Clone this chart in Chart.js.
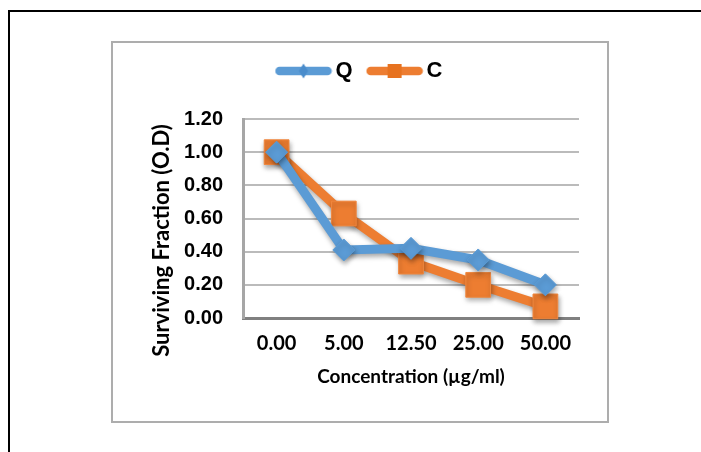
<!DOCTYPE html>
<html>
<head>
<meta charset="utf-8">
<script src="https://cdn.jsdelivr.net/npm/chart.js@4.4.1/dist/chart.umd.min.js"></script>
<style>
  html, body { margin: 0; padding: 0; background: #fff; }
  #wrap { position: relative; width: 701px; height: 452px; overflow: hidden; }
  #frame { position: absolute; left: 8px; top: 10px; width: 700px; height: 450px;
           border-top: 2px solid #000; border-left: 2px solid #000; box-sizing: border-box; }
  #box { position: absolute; left: 111px; top: 41px; width: 498px; height: 382px;
         border: 2px solid #ADADAD; box-sizing: border-box; }
  canvas { position: absolute; left: 0; top: 0; }
</style>
</head>
<body>
<div id="wrap">
  <div id="frame"></div>
  <div id="box"></div>
  <canvas id="c" width="701" height="452"></canvas>
</div>
<script>
// Concentration categories and the surviving fraction of each treatment
const categories = ['0.00', '5.00', '12.50', '25.00', '50.00'];
const seriesQ = [1.00, 0.41, 0.42, 0.35, 0.20];
const seriesC = [1.00, 0.63, 0.34, 0.20, 0.07];
const yTicks = [0.00, 0.20, 0.40, 0.60, 0.80, 1.00, 1.20];

const BLUE = '#5B9BD5';
const ORANGE = '#ED7D31';

// Legend glyph: thick rounded line with the series marker in the middle
function legendGlyph(color, markColor, shape) {
  const cv = document.createElement('canvas');
  cv.width = 58; cv.height = 20;
  const g = cv.getContext('2d');
  g.strokeStyle = color;
  g.lineWidth = 8.5;
  g.lineCap = 'round';
  g.beginPath(); g.moveTo(5, 10); g.lineTo(53, 10); g.stroke();
  g.fillStyle = markColor;
  g.beginPath();
  if (shape === 'diamond') {
    g.moveTo(29, 2.5); g.lineTo(33.5, 10); g.lineTo(29, 17.5); g.lineTo(24.5, 10);
  } else {
    g.rect(22, 3, 14, 14);
  }
  g.closePath(); g.fill();
  return cv;
}
const glyphQ = legendGlyph(BLUE, '#4A8CCB', 'diamond');
const glyphC = legendGlyph(ORANGE, '#E7721F', 'square');

// Soft drop shadow under the lines and markers
const markShadow = {
  id: 'markShadow',
  beforeDatasetDraw(chart) {
    const ctx = chart.ctx;
    ctx.save();
    ctx.shadowColor = 'rgba(0,0,0,0.35)';
    ctx.shadowBlur = 5;
    ctx.shadowOffsetX = 1;
    ctx.shadowOffsetY = 3;
  },
  afterDatasetDraw(chart) { chart.ctx.restore(); }
};

// Keep the legend row near the top padding, leaving open space above the plot
const legendUp = {
  id: 'legendUp',
  afterLayout(chart) {
    const lg = chart.legend;
    if (!lg) return;
    const h = lg.bottom - lg.top;
    lg.top = chart.options.layout.padding.top;
    lg.bottom = lg.top + h;
  }
};

// Vertical axis title, set a little below the middle of the axis
const yAxisTitle = {
  id: 'yAxisTitle',
  afterDraw(chart) {
    const { ctx, chartArea, scales } = chart;
    ctx.save();
    ctx.translate(scales.y.left + 16, (chartArea.top + chartArea.bottom) / 2 + 22);
    ctx.rotate(-Math.PI / 2);
    ctx.font = 'bold 22px Lato';
    ctx.fillStyle = '#000';
    ctx.textAlign = 'center';
    ctx.textBaseline = 'middle';
    ctx.fillText('Surviving Fraction (O.D)', 0, 0);
    ctx.restore();
  }
};

new Chart(document.getElementById('c'), {
  type: 'line',
  data: {
    labels: categories,
    datasets: [
      {
        label: 'Q', data: seriesQ,
        borderColor: BLUE, backgroundColor: BLUE, borderWidth: 9,
        pointStyle: 'rectRot', pointRadius: 11, pointHoverRadius: 11,
        pointBackgroundColor: BLUE, pointBorderColor: BLUE, pointBorderWidth: 1,
        tension: 0, clip: false
      },
      {
        label: 'C', data: seriesC,
        borderColor: ORANGE, backgroundColor: ORANGE, borderWidth: 9,
        pointStyle: 'rect', pointRadius: 17.5, pointHoverRadius: 17.5,
        pointBackgroundColor: ORANGE, pointBorderColor: '#F0883F', pointBorderWidth: 1,
        tension: 0, clip: false
      }
    ]
  },
  options: {
    responsive: false,
    animation: false,
    devicePixelRatio: 1,
    layout: { padding: { left: 146, right: 122, top: 39, bottom: 64 } },
    plugins: {
      tooltip: { enabled: false },
      legend: {
        position: 'top',
        labels: {
          usePointStyle: true,
          pointStyleWidth: 42,
          padding: 21,
          color: '#000',
          font: { family: 'Liberation Sans', weight: 'bold', size: 22 },
          generateLabels(chart) {
            return chart.data.datasets.map((ds, i) => ({
              text: ds.label,
              pointStyle: i === 0 ? glyphQ : glyphC,
              fillStyle: ds.borderColor,
              strokeStyle: ds.borderColor,
              lineWidth: 0,
              hidden: false,
              datasetIndex: i
            }));
          }
        }
      }
    },
    scales: {
      x: {
        offset: true,
        grid: { display: false, drawTicks: false },
        border: { display: true, color: '#808080', width: 3 },
        ticks: {
          color: '#000', padding: 14, maxRotation: 0, autoSkip: false,
          font: { family: 'Lato', weight: 'bold', size: 20 }
        },
        title: {
          display: true, text: 'Concentration (µg/ml)', color: '#000', padding: 0,
          font: { family: 'Lato', weight: 'bold', size: 19 }
        },
        afterFit(s) { s.height = 70; }
      },
      y: {
        min: 0, max: 1.2,
        grid: { color: '#BBBBBB', lineWidth: 2, drawTicks: false },
        border: { display: true, color: '#A6A6A6', width: 3 },
        ticks: {
          color: '#000', padding: 20,
          font: { family: 'Liberation Sans', weight: 'bold', size: 20 },
          callback: (v) => Number(v).toFixed(2)
        },
        afterBuildTicks(s) { s.ticks = yTicks.map(v => ({ value: v })); },
        afterFit(s) { s.width = 97; s.paddingTop = 119; }
      }
    }
  },
  plugins: [markShadow, legendUp, yAxisTitle]
});
</script>
</body>
</html>
